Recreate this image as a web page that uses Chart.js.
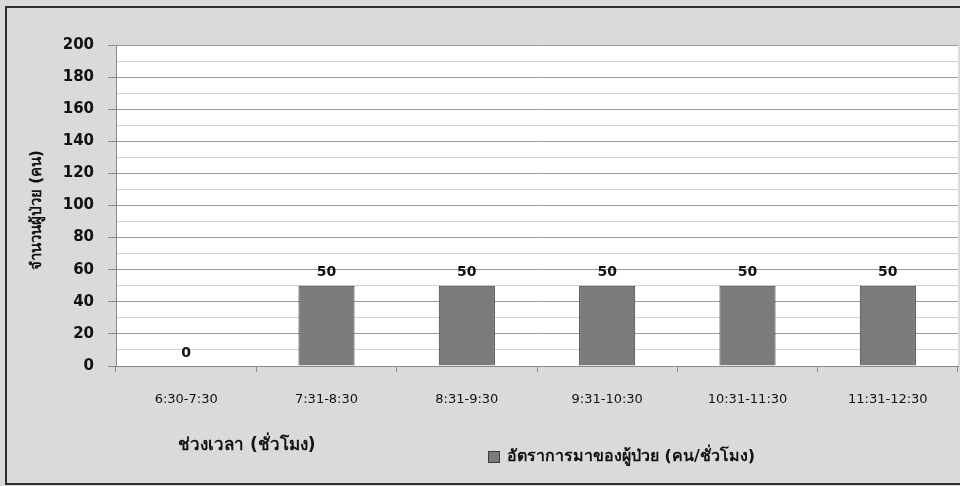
<!DOCTYPE html>
<html>
<head>
<meta charset="utf-8">
<script src="https://cdn.jsdelivr.net/npm/chart.js@4/dist/chart.umd.min.js"></script>
<style>
  html, body { margin: 0; padding: 0; background: #dadada; }
  #wrap { width: 960px; height: 486px; position: relative; }
</style>
</head>
<body>
<div id="wrap"><canvas id="c" width="960" height="486"></canvas></div>
<script>
// Time slots (hours) and patient arrivals per hour
const timeSlots = ['6:30-7:30', '7:31-8:30', '8:31-9:30', '9:31-10:30', '10:31-11:30', '11:31-12:30'];
const arrivalRate = [0, 50, 50, 50, 50, 50];
const seriesName = 'อัตราการมาของผู้ป่วย (คน/ชั่วโมง)';
const yTitle = 'จำนวนผู้ป่วย (คน)';
const xTitle = 'ช่วงเวลา (ชั่วโมง)';

const FONT = "'DejaVu Sans', Tahoma, sans-serif";
const BAR_FILL = '#7b7b7b';
const BAR_EDGE = '#3c3c3c';

// Gray frame, white plot area, outer border
const frame = {
  id: 'frame',
  beforeDraw(chart) {
    const { ctx, chartArea: a, width, height } = chart;
    ctx.save();
    ctx.fillStyle = '#dadada';
    ctx.fillRect(0, 0, width, height);
    ctx.fillStyle = '#ffffff';
    ctx.fillRect(a.left, a.top, a.right - a.left, a.bottom - a.top);
    ctx.restore();
  },
  afterDraw(chart) {
    const { ctx } = chart;
    ctx.save();
    ctx.strokeStyle = '#2e2e2e';
    ctx.lineWidth = 2;
    ctx.strokeRect(6, 7, 970, 477);

    // axis titles
    ctx.fillStyle = '#111';
    ctx.font = 'bold 17px ' + FONT;
    ctx.textBaseline = 'middle';
    ctx.textAlign = 'left';
    ctx.fillText(xTitle, 178, 446);

    ctx.save();
    ctx.translate(37, 210);
    ctx.rotate(-Math.PI / 2);
    ctx.textAlign = 'center';
    ctx.font = 'bold 15px ' + FONT;
    ctx.fillText(yTitle, 0, 0);
    ctx.restore();

    // legend
    const ds = chart.data.datasets[0];
    ctx.fillStyle = ds.backgroundColor;
    ctx.fillRect(488, 451, 11, 11);
    ctx.strokeStyle = ds.borderColor;
    ctx.lineWidth = 1;
    ctx.strokeRect(488.5, 451.5, 11, 11);
    ctx.fillStyle = '#111';
    ctx.font = 'bold 16px ' + FONT;
    ctx.textAlign = 'left';
    ctx.fillText(ds.label, 507, 457);
    ctx.restore();
  }
};

// Value labels above each bar
const valueLabels = {
  id: 'valueLabels',
  afterDatasetsDraw(chart) {
    const { ctx } = chart;
    const meta = chart.getDatasetMeta(0);
    const vals = chart.data.datasets[0].data;
    ctx.save();
    ctx.fillStyle = '#111';
    ctx.font = 'bold 14px ' + FONT;
    ctx.textAlign = 'center';
    ctx.textBaseline = 'bottom';
    meta.data.forEach((bar, i) => {
      ctx.fillText(String(vals[i]), bar.x, bar.y - 6);
    });
    ctx.restore();
  }
};

new Chart(document.getElementById('c'), {
  type: 'bar',
  data: {
    labels: timeSlots,
    datasets: [{
      label: seriesName,
      data: arrivalRate,
      backgroundColor: BAR_FILL,
      borderColor: BAR_EDGE,
      borderWidth: 1,
      barPercentage: 0.4,
      categoryPercentage: 1.0
    }]
  },
  options: {
    responsive: false,
    animation: false,
    events: [],
    layout: { padding: { top: 45, right: 2, left: 0, bottom: 0 } },
    plugins: { legend: { display: false }, title: { display: false }, tooltip: { enabled: false } },
    scales: {
      x: {
        offset: true,
        afterFit(s) { s.height = 120; },
        border: { color: '#8a8a8a', width: 1 },
        grid: { drawOnChartArea: false, drawTicks: true, tickLength: 6, color: '#8a8a8a', offset: true },
        ticks: { color: '#111', font: { family: FONT, size: 13 }, padding: 20, maxRotation: 0 }
      },
      y: {
        min: 0, max: 200,
        afterFit(s) { s.width = 116; },
        border: { color: '#8a8a8a', width: 1 },
        grid: {
          tickLength: 8,
          color: c => (c.tick && c.tick.value % 20 === 0) ? '#9a9a9a' : '#d2d2d2',
          tickColor: c => (c.tick && c.tick.value % 20 === 0) ? '#8a8a8a' : 'rgba(0,0,0,0)'
        },
        ticks: {
          stepSize: 10,
          autoSkip: false,
          color: '#111',
          padding: 14,
          font: { family: FONT, size: 15, weight: 'bold' },
          callback: v => (v % 20 === 0 ? v : '')
        }
      }
    }
  },
  plugins: [frame, valueLabels]
});
</script>
</body>
</html>
